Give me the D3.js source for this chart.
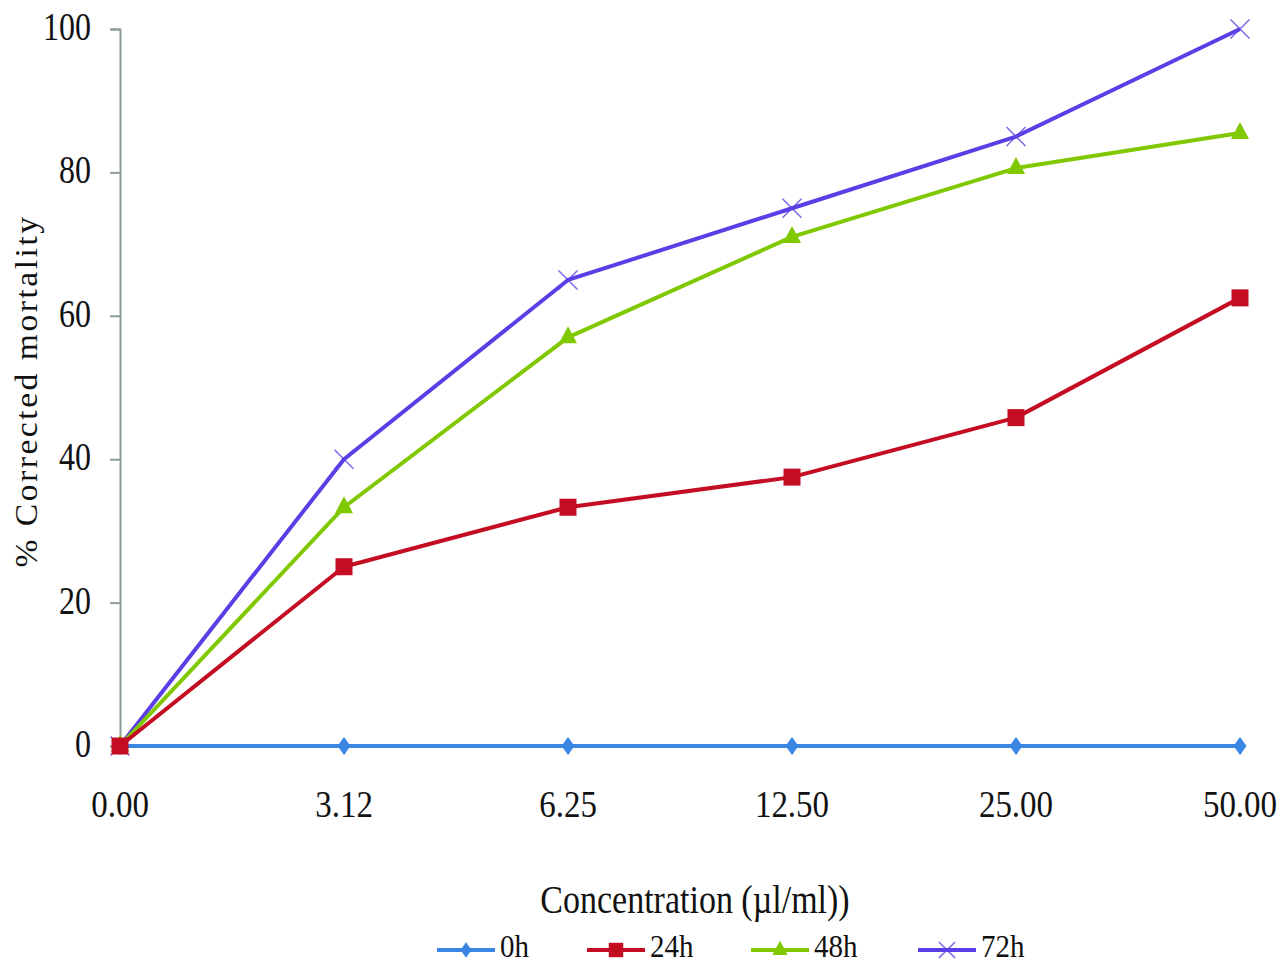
<!DOCTYPE html>
<html>
<head>
<meta charset="utf-8">
<script src="https://cdn.jsdelivr.net/npm/d3@7"></script>
<style>
  html, body { margin: 0; padding: 0; background: #fff; }
  svg { display: block; }
  text { font-family: "Liberation Serif", "DejaVu Serif", serif; fill: #111; }
</style>
</head>
<body>
<svg id="chart" width="1281" height="965"></svg>
<script>
// Concentration categories (µl/ml)
const concentrations = ["0.00", "3.12", "6.25", "12.50", "25.00", "50.00"];
// % corrected mortality per exposure time
const mortality0h  = [0, 0, 0, 0, 0, 0];
const mortality24h = [0, 25.0, 33.3, 37.5, 45.8, 62.5];
const mortality48h = [0, 33.3, 57.0, 71.0, 80.6, 85.5];
const mortality72h = [0, 40.0, 65.0, 75.0, 85.0, 100];
const seriesNames = ["0h", "24h", "48h", "72h"];
const yTicks = [0, 20, 40, 60, 80, 100];

const seriesStyle = {
  "0h":  { color: "#3a86e4", marker: "diamond" },
  "24h": { color: "#c40d23", marker: "square" },
  "48h": { color: "#80c800", marker: "triangle" },
  "72h": { color: "#5b3fe6", marker: "cross" }
};
const seriesData = {
  "0h": mortality0h, "24h": mortality24h, "48h": mortality48h, "72h": mortality72h
};

const svg = d3.select("#chart");
const plot = { left: 120, right: 1240, top: 29, bottom: 746 };

const x = d3.scalePoint().domain(concentrations).range([plot.left, plot.right]);
const y = d3.scaleLinear().domain([0, 100]).range([plot.bottom, plot.top]);

const axisColor = "#8d9b9b";
const STRETCH = 1.2;

// stretched serif text helper
function label(g, tx, ty, str, size, anchor, sy) {
  return g.append("text")
    .attr("transform", `translate(${tx},${ty}) scale(1,${sy || STRETCH})`)
    .attr("text-anchor", anchor || "middle")
    .style("font-size", size + "px")
    .text(str);
}

// Y axis
const yAxis = d3.axisLeft(y).tickValues(yTicks).tickSize(10).tickFormat(d3.format("d"));
const gy = svg.append("g").attr("transform", `translate(${plot.left},0)`).call(yAxis);
gy.select(".domain").attr("stroke", axisColor).attr("stroke-width", 2);
gy.selectAll(".tick line").attr("stroke", axisColor).attr("stroke-width", 2);
gy.selectAll(".tick text").remove();
yTicks.forEach(v => label(svg, 91, y(v) + 11, String(v), 32, "end", 1.22));

// X axis
const xAxis = d3.axisBottom(x).tickSize(8).tickSizeOuter(0);
const gx = svg.append("g").attr("transform", `translate(0,${plot.bottom})`).call(xAxis);
gx.select(".domain").attr("stroke", axisColor).attr("stroke-width", 2);
gx.selectAll(".tick line").attr("stroke", axisColor).attr("stroke-width", 2);
gx.selectAll(".tick text").remove();
concentrations.forEach(c => label(svg, x(c), 817, c, 33, "middle", 1.18));

// Axis titles
label(svg, 695, 913, "Concentration (\u00b5l/ml))", 34, "middle", 1.15);
svg.append("text")
  .attr("transform", `translate(37,391) rotate(-90) scale(1.05,1)`)
  .attr("text-anchor", "middle")
  .style("font-size", "32px")
  .style("letter-spacing", "2.4px")
  .text("% Corrected  mortality");

// Marker drawing
function drawMarker(g, type, cx, cy, color, scale) {
  const s = scale || 1;
  if (type === "diamond") {
    g.append("path")
      .attr("d", `M${cx},${cy - 9 * s}L${cx + 6.5 * s},${cy}L${cx},${cy + 9 * s}L${cx - 6.5 * s},${cy}Z`)
      .attr("fill", color);
  } else if (type === "square") {
    const h = 8.5 * s;
    g.append("rect").attr("x", cx - h).attr("y", cy - h)
      .attr("width", 2 * h).attr("height", 2 * h).attr("fill", color);
  } else if (type === "triangle") {
    g.append("path")
      .attr("d", `M${cx},${cy - 11 * s}L${cx + 9 * s},${cy + 6 * s}L${cx - 9 * s},${cy + 6 * s}Z`)
      .attr("fill", color);
  } else if (type === "cross") {
    const h = 9.5 * s;
    g.append("path")
      .attr("d", `M${cx - h},${cy - h}L${cx + h},${cy + h}M${cx - h},${cy + h}L${cx + h},${cy - h}`)
      .attr("stroke", color).attr("stroke-width", 1.5).attr("fill", "none")
      .attr("opacity", 0.8);
  }
}

const line = d3.line().x((d, i) => x(concentrations[i])).y(d => y(d));

// Draw series: 0h first, then 72h, 48h, 24h so the lower curves sit on top at origin
const drawOrder = ["0h", "72h", "48h", "24h"];
drawOrder.forEach(name => {
  const st = seriesStyle[name];
  const vals = seriesData[name];
  const g = svg.append("g");
  g.append("path").datum(vals)
    .attr("d", line)
    .attr("fill", "none")
    .attr("stroke", st.color)
    .attr("stroke-width", 4)
    .attr("stroke-linejoin", "round");
  vals.forEach((v, i) => drawMarker(g, st.marker, x(concentrations[i]), y(v), st.color));
});

// Legend
const legendItems = [
  { name: "0h",  x0: 437 },
  { name: "24h", x0: 587 },
  { name: "48h", x0: 751 },
  { name: "72h", x0: 918 }
];
const legendY = 950;
legendItems.forEach(it => {
  const st = seriesStyle[it.name];
  const g = svg.append("g");
  g.append("line").attr("x1", it.x0).attr("x2", it.x0 + 58)
    .attr("y1", legendY).attr("y2", legendY)
    .attr("stroke", st.color).attr("stroke-width", 4);
  drawMarker(g, st.marker, it.x0 + 29, legendY, st.color, 0.85);
  label(svg, it.x0 + 63, 957, it.name, 29, "start", 1.12);
});
</script>
</body>
</html>
